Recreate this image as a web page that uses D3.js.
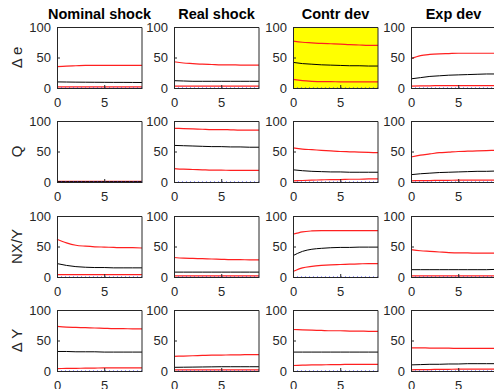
<!DOCTYPE html>
<html>
<head>
<meta charset="utf-8">
<script src="https://cdn.jsdelivr.net/npm/d3@7"></script>
<style>
  body { margin: 0; background: #fff; }
  text { font-family: "Liberation Sans", Arial, sans-serif; }
</style>
</head>
<body>
<div id="chart-area"></div>
<script>
var colTitles = ["Nominal shock", "Real shock", "Contr dev", "Exp dev"];
var rowLabels = ["\u0394 e", "Q", "NX/Y", "\u0394 Y"];
var steps = [0, 1, 2, 3, 4, 5, 6, 7, 8, 9];
var xTicks = [0, 5];
var yTicks = [0, 50, 100];
var highlight = [[0, 2]]; // row, col of the yellow panel

// upper red band, row by row, column by column
var upperBand = [
    [[35, 36, 36.5, 37, 37, 37, 37, 37, 37, 37],
     [43, 41, 40, 39, 38.5, 38, 38, 37.5, 37.5, 37.5],
     [77, 75, 74, 73, 72.5, 72, 71, 70.5, 70, 70],
     [48, 53, 55, 56, 56.5, 57, 57, 57, 57, 57]],
    [[1, 1, 1, 1, 1, 1, 1, 1, 1, 1],
     [88, 87.5, 87, 86.5, 86, 86, 85.5, 85, 85, 85],
     [56, 54, 53, 52, 51, 50, 49.5, 49, 48.5, 48],
     [41, 44, 46, 48, 49, 50, 50.5, 51, 51.5, 52]],
    [[62, 56, 52, 50.5, 49.5, 49, 48.5, 48, 48, 47.5],
     [32, 31, 30.5, 30, 29.5, 29, 28.5, 28.5, 28, 28],
     [70, 74, 75.5, 76, 76, 76, 76, 76, 76, 76],
     [45, 43, 42, 41, 40, 39.5, 39.5, 39, 39, 39]],
    [[73, 72, 71.5, 71, 70.5, 70, 69.5, 69.5, 69, 69],
     [24, 24.5, 25, 25.5, 26, 26, 26.5, 26.5, 27, 27],
     [68, 67.5, 67, 66.5, 66, 66, 65.5, 65.5, 65, 65],
     [38, 38, 37.5, 37.5, 37.5, 37, 37, 37, 37, 37]]
];

// black median line
var medianLine = [
    [[10, 9.8, 9.6, 9.5, 9.4, 9.3, 9.2, 9.2, 9.1, 9],
     [12, 11.5, 11, 11, 11, 11, 11, 11, 11, 11],
     [42, 40, 39, 38, 37.5, 37, 36.5, 36.5, 36, 36],
     [15, 17, 19, 20, 21, 21.5, 22, 22.5, 23, 23]],
    [[0.5, 0.5, 0.5, 0.5, 0.5, 0.5, 0.5, 0.5, 0.5, 0.5],
     [60, 59.5, 59, 58.5, 58, 58, 57.5, 57.5, 57, 57],
     [20, 18.5, 17.5, 17, 16.5, 16.5, 16, 16, 16, 16],
     [12, 13.5, 14.5, 15.5, 16, 16.5, 17, 17.5, 17.5, 18]],
    [[22, 19, 17, 16, 15.5, 15.5, 15, 15, 15, 15],
     [8, 8, 8, 8, 8, 8, 8, 8, 8, 8],
     [35, 42, 45.5, 47, 48, 48.5, 48.5, 49, 49, 49],
     [12, 12, 12, 12, 12, 12, 12, 12, 12, 12.5]],
    [[32, 32, 31.5, 31.5, 31.5, 31, 31, 31, 31, 31],
     [6, 6.2, 6.4, 6.6, 6.8, 7, 7, 7, 7, 7],
     [31, 31, 31, 31, 31, 31, 31, 31, 31, 31],
     [10, 10.5, 11, 11, 11.5, 11.5, 12, 12, 12, 12]]
];

// lower red band
var lowerBand = [
    [[2, 2, 2, 2, 2, 2, 2, 2, 2, 2],
     [3, 3, 3, 3, 3, 3, 3, 3, 3, 3],
     [14, 12, 11, 10.5, 10.5, 10, 10, 10, 10, 10],
     [3, 3.5, 3.5, 4, 4, 4, 4, 4, 4, 4]],
    [[0, 0, 0, 0, 0, 0, 0, 0, 0, 0],
     [22, 21, 20.5, 20, 19.5, 19.5, 19, 19, 19, 19],
     [2, 2.5, 3, 3.5, 4, 4, 4.5, 4.5, 5, 5],
     [2, 2.2, 2.4, 2.6, 2.8, 3, 3, 3, 3, 3]],
    [[4, 4, 4, 4, 4, 4, 4, 4, 4, 4],
     [2, 2, 2, 2, 2, 2, 2, 2, 2, 2],
     [9, 15, 17.5, 19, 20, 20.5, 21, 21.5, 22, 22],
     [2, 2, 2, 2, 2, 2, 2, 2, 2, 2]],
    [[4, 4.2, 4.4, 4.6, 4.8, 5, 5, 5, 5, 5],
     [2, 2, 2, 2, 2, 2, 2, 2, 2, 2],
     [9, 9.5, 10, 10, 10.5, 10.5, 11, 11, 11, 11],
     [2, 2.2, 2.4, 2.6, 2.8, 3, 3, 3, 3, 3]]
];

var width = 494, height = 389;
var colLeft = [57, 174, 293, 411];
var rowTop = [27, 121, 216, 310];
var pw = 85, ph = 61;

var svg = d3.select("#chart-area")
    .append("svg")
    .attr("width", width)
    .attr("height", height);

var x = d3.scaleLinear().domain([0, 9]).range([0, pw]);
var y = d3.scaleLinear().domain([0, 100]).range([ph, 0]);
var axisColor = "#262626";

var line = d3.line()
    .x(function (d, i) { return x(steps[i]); })
    .y(function (d) { return y(d); })
    .curve(d3.curveMonotoneX);

rowLabels.forEach(function (rl, r) {
    colTitles.forEach(function (ct, c) {
        var g = svg.append("g")
            .attr("transform", "translate(" + colLeft[c] + "," + rowTop[r] + ")");

        var isYellow = highlight.some(function (h) { return h[0] == r && h[1] == c; });
        g.append("rect")
            .attr("width", pw).attr("height", ph)
            .attr("fill", isYellow ? "#ffff00" : "#fff");

        // series
        [upperBand, lowerBand].forEach(function (band) {
            g.append("path")
                .attr("d", line(band[r][c]))
                .attr("fill", "none")
                .attr("stroke", "#ff2020")
                .attr("stroke-width", 1.2);
        });
        g.append("path")
            .attr("d", line(medianLine[r][c]))
            .attr("fill", "none")
            .attr("stroke", "#000")
            .attr("stroke-width", 1);
        g.append("path")
            .attr("d", line(steps.map(function () { return 0; })))
            .attr("fill", "none")
            .attr("stroke", "#3030ff")
            .attr("stroke-width", 1)
            .attr("stroke-dasharray", "1,3");

        // axes
        var xAxis = d3.axisBottom(x).tickValues(xTicks).tickSizeInner(-3).tickSizeOuter(0).tickPadding(10);
        var yAxis = d3.axisLeft(y).tickValues(yTicks).tickSizeInner(-3).tickSizeOuter(0).tickPadding(6);
        var gx = g.append("g").attr("transform", "translate(0," + ph + ")").call(xAxis);
        var gy = g.append("g").call(yAxis);
        [gx, gy].forEach(function (a) {
            a.select(".domain").attr("stroke", axisColor);
            a.selectAll(".tick line").attr("stroke", axisColor);
            a.selectAll(".tick text")
                .attr("fill", axisColor)
                .style("font-size", "13px")
                .style("font-family", "'Liberation Sans', Arial, sans-serif");
        });
        // top and right edges of the box
        g.append("path")
            .attr("d", "M0,0.5H" + pw + "V" + ph)
            .attr("fill", "none")
            .attr("stroke", axisColor);

        if (r == 0) {
            g.append("text")
                .attr("x", pw / 2)
                .attr("y", -8)
                .attr("text-anchor", "middle")
                .style("font-size", "14.5px")
                .style("font-weight", "bold")
                .attr("fill", "#000")
                .text(ct);
        }
    });

    svg.append("text")
        .attr("transform", "translate(22," + (rowTop[r] + ph / 2) + ") rotate(-90)")
        .attr("text-anchor", "middle")
        .style("font-size", "15px")
        .attr("fill", axisColor)
        .text(rl);
});
</script>
</body>
</html>
